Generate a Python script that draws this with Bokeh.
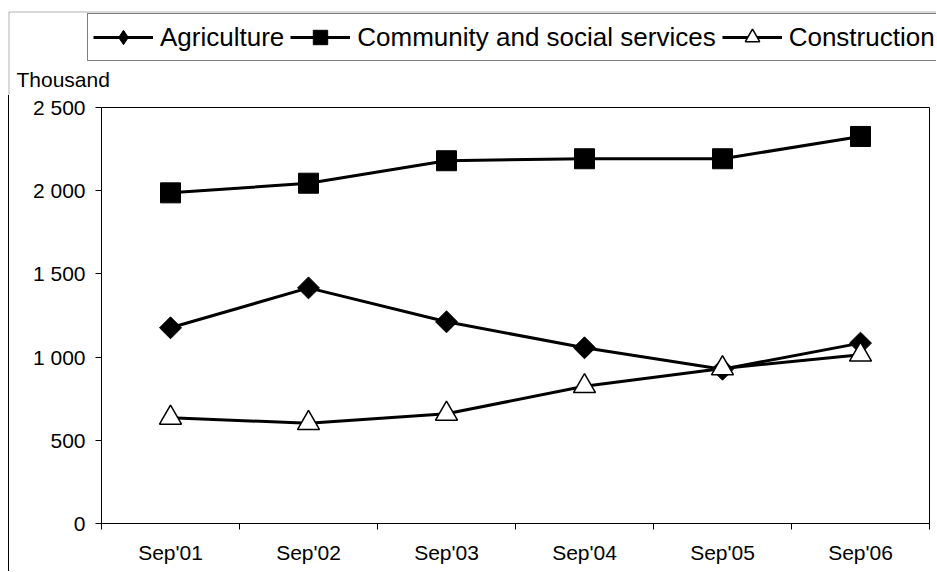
import numpy as np
from bokeh.plotting import figure
from bokeh.layouts import column
from bokeh.models import Legend, LegendItem, FixedTicker, Range1d, Label, BoxAnnotation
from bokeh.embed import file_html
from bokeh.resources import INLINE

categories = ["Sep'01", "Sep'02", "Sep'03", "Sep'04", "Sep'05", "Sep'06"]
agriculture = [1176, 1416, 1212, 1056, 927, 1084]
community = [1987, 2045, 2180, 2192, 2192, 2326]
construction = [635, 603, 659, 825, 932, 1014]
y_ticks = [0, 500, 1000, 1500, 2000, 2500]
y_unit = "Thousand"
series_names = ["Agriculture", "Community and social services", "Construction"]

FONT = "Liberation Sans"
HEAD_W = 936
HEAD_H = 95
MAIN_W = 927
MAIN_H = 476

xs = [i + 0.5 for i in range(len(categories))]
series_values = [agriculture, community, construction]

# ---------------- main chart ----------------
p = figure(width=MAIN_W, height=MAIN_H, x_range=Range1d(0, len(categories)),
           y_range=Range1d(y_ticks[0], y_ticks[-1]),
           output_backend="svg", toolbar_location=None,
           min_border_left=92, min_border_right=7, min_border_top=12,
           min_border_bottom=48)
p.title = None
p.frame_align = False
p.styles = {"border-left": "1px solid black"}
p.margin = (0, 0, 0, 8)
p.background_fill_color = "white"
p.border_fill_color = "white"
p.xgrid.visible = False
p.ygrid.visible = False
p.outline_line_color = "black"
p.outline_line_width = 1

xa = p.xaxis[0]
xa.ticker = FixedTicker(ticks=xs, minor_ticks=list(range(len(categories) + 1)))
xa.major_label_overrides = {x: c for x, c in zip(xs, categories)}
xa.major_tick_in = 0
xa.major_tick_out = 0
xa.minor_tick_in = 0
xa.minor_tick_out = 6
xa.minor_tick_line_color = "black"
xa.axis_line_color = "black"
xa.major_label_standoff = 11
xa.major_label_text_font = FONT
xa.major_label_text_font_size = "21px"
xa.major_label_text_color = "black"

ya = p.yaxis[0]
ya.ticker = FixedTicker(ticks=y_ticks)
ya.major_label_overrides = {v: f"{v:,}".replace(",", " ") for v in y_ticks}
ya.major_tick_in = 0
ya.major_tick_out = 6
ya.major_tick_line_color = "black"
ya.minor_tick_line_color = None
ya.axis_line_color = "black"
ya.major_label_standoff = 10
ya.major_label_text_font = FONT
ya.major_label_text_font_size = "21px"
ya.major_label_text_color = "black"

p.line(xs, agriculture, line_color="black", line_width=3)
p.scatter(xs, agriculture, marker="square", angle=np.pi / 4, size=15.5,
          fill_color="black", line_color="black")
p.line(xs, community, line_color="black", line_width=3)
p.scatter(xs, community, marker="square", size=20,
          fill_color="black", line_color="black")
p.line(xs, construction, line_color="black", line_width=3)
p.scatter(xs, construction, marker="triangle", size=22,
          fill_color="white", line_color="black", line_width=1.5)

# ---------------- header: chart border, legend, unit ----------------
h = figure(width=HEAD_W, height=HEAD_H, x_range=Range1d(0, HEAD_W),
           y_range=Range1d(0, HEAD_H),
           output_backend="svg", toolbar_location=None,
           min_border_left=0, min_border_right=0, min_border_top=0,
           min_border_bottom=0)
h.title = None
h.frame_align = False
h.axis.visible = False
h.grid.visible = False
h.outline_line_color = None
h.background_fill_color = "white"
h.border_fill_color = "white"
h.margin = (0, 0, 0, 0)

# outer chart-area border (top and left edges)
h.add_layout(BoxAnnotation(left=8.5, right=HEAD_W + 50, bottom=-50, top=HEAD_H - 11.5,
                           fill_alpha=0, line_color="black", line_width=1))

marker_styles = [
    dict(marker="diamond", fill_color="black", line_color="black"),
    dict(marker="square", fill_color="black", line_color="black"),
    dict(marker="triangle", fill_color="white", line_color="black", line_width=1.5),
]
items = []
# legend glyph renderers carry the series (outside this header's visible range)
for name, vals, ms in zip(series_names, series_values, marker_styles):
    lr = h.line(x=xs, y=vals, line_color="black", line_width=3)
    mr = h.scatter(x=xs, y=vals, **ms)
    items.append(LegendItem(label=name, renderers=[lr, mr]))

legend = Legend(items=items, location=(87, HEAD_H - 61), orientation="horizontal",
                label_text_font=FONT, label_text_font_size="26px",
                label_text_color="black",
                glyph_width=60, glyph_height=36, padding=5, spacing=6,
                label_standoff=7, border_line_color="black",
                border_line_width=1, background_fill_color="white",
                background_fill_alpha=1, margin=0)
h.add_layout(legend)

h.add_layout(Label(x=16, y=HEAD_H - 78.5, text=y_unit, text_font=FONT,
                   text_font_size="21px", text_color="black",
                   text_baseline="middle", text_align="left"))

layout = column(h, p, spacing=0)
open("out.html", "w").write(file_html(layout, INLINE))
